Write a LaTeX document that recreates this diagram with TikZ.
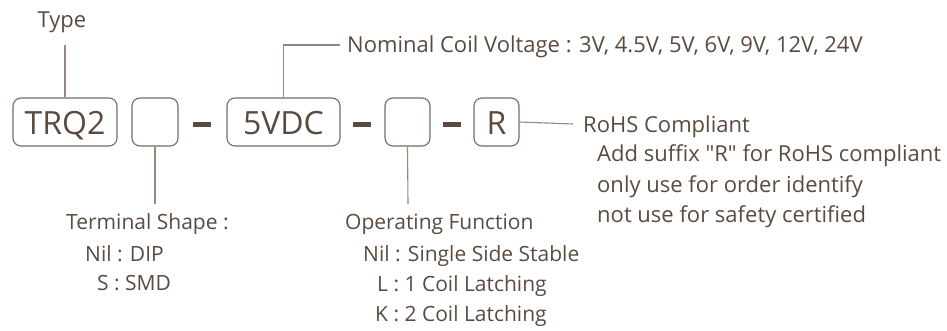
\documentclass[tikz,border=0pt]{standalone}
\usepackage{fontspec}
\setmainfont{Open Sans}[Ligatures=TeXOff]
\definecolor{txt}{HTML}{5A4A40}
\definecolor{ln}{HTML}{978780}
\definecolor{bx}{HTML}{7A6A62}
\definecolor{dsh}{HTML}{5E4A3C}
\begin{document}
\begin{tikzpicture}[x=1pt,y=-1pt,
  lbl/.style={font=\fontsize{22}{26}\selectfont, text=txt, inner sep=0pt, text height=16pt, text depth=0pt, anchor=west},
  lbls/.style={lbl, font=\fontsize{21}{25}\selectfont, text height=15pt},
  codebox/.style={draw=bx, line width=1.1pt, rounded corners=8pt, minimum height=48pt, inner sep=0pt, text=txt, text height=24pt, text depth=0pt, font=\fontsize{32}{36}\selectfont},
  conn/.style={draw=ln, line width=1.1pt},
  dashbar/.style={draw=dsh, line width=5pt}]
\useasboundingbox (0,0) rectangle (947,330);
% code boxes
\node[codebox, minimum width=104pt] (trq) at (65,122) {TRQ2};
\node[codebox, minimum width=46pt] (term) at (155,122) {};
\node[codebox, minimum width=113pt] (vdc) at (283.5,122) {5VDC};
\node[codebox, minimum width=45pt] (op) at (407.5,122) {};
\node[codebox, minimum width=45pt] (r) at (496.5,122) {R};
% dashes
\coordinate (d1a) at (193,124); \coordinate (d1b) at (211,124);
\coordinate (d2a) at (353,124); \coordinate (d2b) at (371,124);
\coordinate (d3a) at (443,124); \coordinate (d3b) at (461,124);
\draw[dashbar] (d1a) -- (d1b);
\draw[dashbar] (d2a) -- (d2b);
\draw[dashbar] (d3a) -- (d3b);
% labels
\node[lbl, anchor=center] (type) at (62,19) {Type};
\node[lbl] (nom) at (347,44) {Nominal Coil Voltage : 3V, 4.5V, 5V, 6V, 9V, 12V, 24V};
\node[lbl] (rohs) at (583,124) {RoHS Compliant};
\node[lbl] (rohs1) at (597,153) {Add suffix "R" for RoHS compliant};
\node[lbl] (rohs2) at (597,184) {only use for order identify};
\node[lbl] (rohs3) at (597,214) {not use for safety certified};
\node[lbls] (ts) at (66,222) {Terminal Shape :};
\node[lbls] (ts1) at (85,254) {Nil : DIP};
\node[lbls] (ts2) at (97,283) {S : SMD};
\node[lbls] (of) at (345,222) {Operating Function};
\node[lbls] (of1) at (363,254) {Nil : Single Side Stable};
\node[lbls] (of2) at (377,284) {L : 1 Coil Latching};
\node[lbls] (of3) at (375,314) {K : 2 Coil Latching};
% connectors
\coordinate (typeend) at (65,45);
\coordinate (nomend) at (340,45);
\coordinate (rohsend) at (573,124);
\coordinate (tsend) at (155,204);
\coordinate (ofend) at (408,204);
\draw[conn] (typeend) -- (trq.north);
\draw[conn] (vdc.north) |- (nomend);
\draw[conn] (r.east) -- (rohsend);
\draw[conn] (term.south) -- (tsend);
\draw[conn] (op.south) -- (ofend);
\end{tikzpicture}
\end{document}
